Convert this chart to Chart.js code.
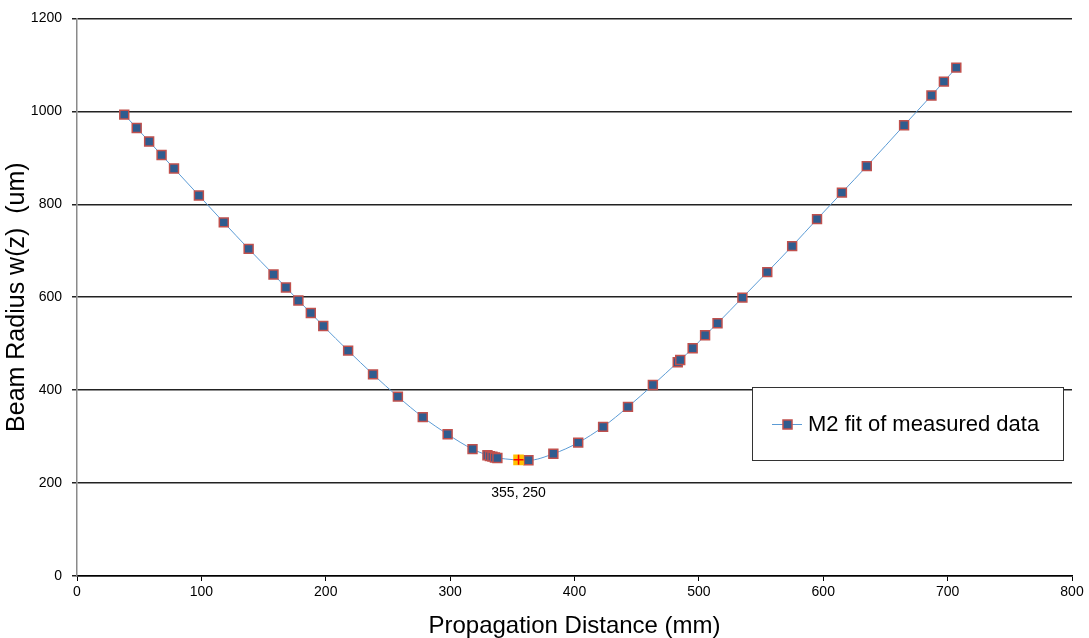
<!DOCTYPE html>
<html>
<head>
<meta charset="utf-8">
<title>Beam radius vs propagation distance</title>
<script src="https://cdn.jsdelivr.net/npm/chart.js@4.4.1/dist/chart.umd.min.js"></script>
<style>
  html, body { margin: 0; padding: 0; background: #fff; }
  canvas { display: block; }
</style>
</head>
<body>
<canvas id="beamChart" width="1089" height="638"></canvas>
<script>
// measured propagation distance (mm) and fitted beam radius (um)
const distances = [38, 48, 58, 68, 78, 98, 118, 138, 158, 168, 178, 188, 198, 218, 238, 258, 278, 298, 318,
  330, 332, 334, 336, 338, 363, 383, 403, 423, 443, 463, 483, 485, 495, 505, 515, 535, 555, 575, 595, 615,
  635, 665, 687, 697, 707];
const radii = [993, 964, 935, 906, 877, 819, 761, 704, 649, 621, 593, 566, 538, 485, 434, 386, 342, 305, 273,
  260, 258, 257, 255, 254, 249, 263, 287, 321, 364, 411, 460, 465, 490, 518, 544, 599, 654, 710, 768, 825,
  882, 970, 1034, 1064, 1094];

// beam waist
const waistX = [355];
const waistY = [250];

const xTicks = [0, 100, 200, 300, 400, 500, 600, 700, 800];
const yTicks = [0, 200, 400, 600, 800, 1000, 1200];

const seriesName = 'M2 fit of measured data';
const FONT = '"Liberation Sans", Arial, sans-serif';

const points = distances.map((d, i) => ({ x: d, y: radii[i] }));
const waist = waistX.map((d, i) => ({ x: d, y: waistY[i] }));

// legend box sitting inside the plot
const boxLegend = {
  id: 'boxLegend',
  afterDraw(chart) {
    const ctx = chart.ctx;
    const x0 = 752, y0 = 387, w = 311, h = 73;
    ctx.save();
    ctx.fillStyle = '#fff';
    ctx.fillRect(x0, y0, w, h);
    ctx.strokeStyle = '#333';
    ctx.lineWidth = 1;
    ctx.strokeRect(x0 + 0.5, y0 + 0.5, w, h);
    const cy = y0 + 37;
    ctx.strokeStyle = '#5b9bd5';
    ctx.beginPath();
    ctx.moveTo(x0 + 20, cy + 0.5);
    ctx.lineTo(x0 + 50, cy + 0.5);
    ctx.stroke();
    ctx.fillStyle = '#2f5c8f';
    ctx.fillRect(x0 + 31, cy - 4, 9, 9);
    ctx.strokeStyle = '#c0504d';
    ctx.lineWidth = 1.5;
    ctx.strokeRect(x0 + 31, cy - 4, 9, 9);
    ctx.fillStyle = '#000';
    ctx.font = '22px ' + FONT;
    ctx.textBaseline = 'middle';
    ctx.fillText(seriesName, x0 + 56, cy + 1);
    ctx.restore();
  }
};

// value label under the waist point
const waistLabel = {
  id: 'waistLabel',
  afterDatasetsDraw(chart) {
    const meta = chart.getDatasetMeta(1);
    const ctx = chart.ctx;
    ctx.save();
    ctx.fillStyle = '#000';
    ctx.font = '14px ' + FONT;
    ctx.textAlign = 'center';
    ctx.textBaseline = 'middle';
    meta.data.forEach((pt, i) => {
      ctx.fillText(waistX[i] + ', ' + waistY[i], pt.x, pt.y + 33);
    });
    ctx.restore();
  }
};

new Chart(document.getElementById('beamChart'), {
  type: 'scatter',
  data: {
    datasets: [
      {
        label: seriesName,
        data: points,
        showLine: true,
        borderColor: '#5b9bd5',
        borderWidth: 1,
        cubicInterpolationMode: 'monotone',
        pointStyle: 'rect',
        pointRadius: 6.3,
        pointBackgroundColor: '#2f5c8f',
        pointBorderColor: '#c0504d',
        pointBorderWidth: 1.5,
        order: 2
      },
      {
        label: 'waist',
        data: waist,
        pointStyle: 'rect',
        pointRadius: 7.5,
        pointBackgroundColor: '#ffc000',
        pointBorderColor: '#ffc000',
        pointBorderWidth: 0,
        order: 1
      },
      {
        label: 'waist mark',
        data: waist,
        pointStyle: 'cross',
        pointRadius: 5,
        pointBorderColor: '#ff0000',
        pointBorderWidth: 1.5,
        order: 0
      }
    ]
  },
  options: {
    responsive: false,
    animation: false,
    layout: { padding: { top: 18, right: 17, left: 0, bottom: 0 } },
    plugins: {
      legend: { display: false },
      tooltip: { enabled: false }
    },
    scales: {
      x: {
        type: 'linear',
        min: 0,
        max: 800,
        afterBuildTicks(scale) { scale.ticks = xTicks.map(v => ({ value: v })); },
        afterFit(scale) { scale.height = 62; },
        ticks: {
          color: '#000', font: { family: FONT, size: 14 }, padding: 3, maxRotation: 0,
          callback: v => String(v)
        },
        grid: { drawOnChartArea: false, drawTicks: true, tickLength: 5, color: '#000' },
        border: { color: '#000', width: 1.5 },
        title: {
          display: true,
          text: 'Propagation Distance (mm)',
          color: '#000',
          font: { family: FONT, size: 24, lineHeight: 1 },
          padding: { top: 0, bottom: 0 }
        }
      },
      y: {
        min: 0,
        max: 1200,
        afterBuildTicks(scale) { scale.ticks = yTicks.map(v => ({ value: v })); },
        afterFit(scale) { scale.width = 77; },
        ticks: {
          color: '#000', font: { family: FONT, size: 14 }, padding: 10,
          callback: v => String(v)
        },
        grid: { color: '#222', lineWidth: 1.5, tickLength: 5 },
        border: { color: '#8a8a8a', width: 1.5 },
        title: {
          display: true,
          text: 'Beam Radius w(z)  (um)',
          color: '#000',
          font: { family: FONT, size: 25, lineHeight: 1 },
          padding: { top: 5, bottom: 0 }
        }
      }
    }
  },
  plugins: [waistLabel, boxLegend]
});
</script>
</body>
</html>
